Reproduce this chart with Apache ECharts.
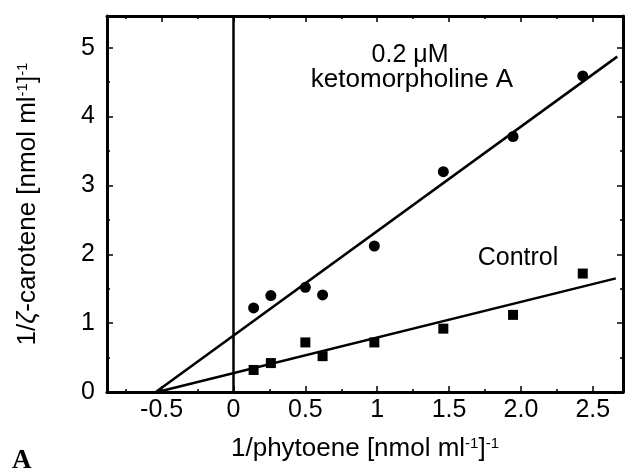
<!DOCTYPE html>
<html>
<head>
<meta charset="utf-8">
<script src="https://cdn.jsdelivr.net/npm/echarts@6/dist/echarts.min.js"></script>
<style>
  html, body { margin: 0; padding: 0; background: #fff; }
  #chart { width: 625px; height: 471px; }
</style>
</head>
<body>
<div id="chart"></div>
<script>
// 1/phytoene (x) 与 1/ζ-carotene (y) 数据
const phytoeneInv = [0.14, 0.26, 0.50, 0.62, 0.98, 1.46, 1.945, 2.43];
const ketoValues = [1.22, 1.40, 1.52, 1.41, 2.12, 3.20, 3.71, 4.59];
const controlValues = [0.32, 0.42, 0.72, 0.52, 0.72, 0.92, 1.12, 1.72];

// 回归直线的两个端点
const ketoFitX = [-0.54, 2.67];
const ketoFitY = [0, 4.87];
const controlFitX = [-0.53, 2.66];
const controlFitY = [0, 1.65];

// 刻度
const xTickValues = [-0.5, 0, 0.5, 1, 1.5, 2, 2.5];
const xTickLabels = ['-0.5', '0', '0.5', '1', '1.5', '2.0', '2.5'];
const xMinorTicks = [-0.75, -0.25, 0.25, 0.75, 1.25, 1.75, 2.25];
const yTickValues = [0, 1, 2, 3, 4, 5];
const yTickLabels = ['0', '1', '2', '3', '4', '5'];
const yMinorTicks = [0.5, 1.5, 2.5, 3.5, 4.5];

const font = '"Liberation Sans", Arial, sans-serif';
const black = '#000';

const pairs = (xs, ys) => xs.map((x, i) => [x, ys[i]]);

// 坐标轴（主刻度 + 次刻度 分开画）
const xRange = { min: -0.88, max: 2.71 };
const yRange = { min: 0, max: 5.46 };

const makeAxis = (pos, range, ticks, tickLen, showLine, labels) => ({
    type: 'value',
    position: pos,
    min: range.min,
    max: range.max,
    axisLine: { show: showLine, onZero: false, lineStyle: { color: black, width: 3 } },
    axisTick: { show: true, inside: true, length: tickLen, customValues: ticks, lineStyle: { color: black, width: 1.5 } },
    axisLabel: labels ? labels : { show: false },
    splitLine: { show: false }
});

const nameStyle = {
    color: black, fontSize: 26, fontFamily: font,
    rich: {
        sup: { fontSize: 15, fontFamily: font, color: black, verticalAlign: 'top' },
        it: { fontSize: 26, fontFamily: font, color: black, fontStyle: 'italic' }
    }
};

const xAxes = [
    Object.assign(makeAxis('bottom', xRange, xTickValues, 6, true, {
        customValues: xTickValues,
        formatter: (v) => {
            const i = xTickValues.indexOf(v);
            return i >= 0 ? xTickLabels[i] : String(v);
        },
        color: black, fontSize: 25, fontFamily: font, margin: 6
    }), {
        name: '1/phytoene [nmol ml{sup|-1}]{sup|-1}',
        nameLocation: 'middle',
        nameGap: 44,
        nameTextStyle: nameStyle
    }),
    makeAxis('bottom', xRange, xMinorTicks, 3, false),
    makeAxis('top', xRange, xTickValues, 6, true),
    makeAxis('top', xRange, xMinorTicks, 3, false)
];

const yAxes = [
    Object.assign(makeAxis('left', yRange, yTickValues, 6, true, {
        customValues: yTickValues,
        formatter: (v) => {
            const i = yTickValues.indexOf(v);
            return i >= 0 ? yTickLabels[i] : String(v);
        },
        color: black, fontSize: 25, fontFamily: font, margin: 12
    }), {
        name: '1/{it|ζ}-carotene [nmol ml{sup|-1}]{sup|-1}',
        nameLocation: 'middle',
        nameGap: 66,
        nameTextStyle: nameStyle
    }),
    makeAxis('left', yRange, yMinorTicks, 3, false),
    makeAxis('right', yRange, yTickValues, 6, true),
    makeAxis('right', yRange, yMinorTicks, 3, false)
];

const option = {
    animation: false,
    backgroundColor: '#fff',
    grid: { left: 107, top: 16, right: 2, bottom: 79, containLabel: false },
    xAxis: xAxes,
    yAxis: yAxes,
    graphic: [
        { type: 'text', x: 410, y: 55, style: { text: '0.2 μM', fill: black, fontSize: 25, fontFamily: font, align: 'center', verticalAlign: 'middle' } },
        { type: 'text', x: 412, y: 80, style: { text: 'ketomorpholine A', fill: black, fontSize: 26, fontFamily: font, align: 'center', verticalAlign: 'middle' } },
        { type: 'text', x: 518, y: 258, style: { text: 'Control', fill: black, fontSize: 25, fontFamily: font, align: 'center', verticalAlign: 'middle' } },
        { type: 'text', x: 12, y: 461, style: { text: 'A', fill: black, fontSize: 27, fontWeight: 'bold', fontFamily: '"Liberation Serif", "Times New Roman", serif', align: 'left', verticalAlign: 'middle' } }
    ],
    series: [
        // 0 处的竖线
        {
            type: 'line',
            data: [],
            markLine: {
                silent: true,
                symbol: ['none', 'none'],
                label: { show: false },
                lineStyle: { color: black, width: 2.5, type: 'solid' },
                data: [{ xAxis: 0 }]
            }
        },
        {
            name: 'ketomorpholine fit',
            type: 'line',
            showSymbol: false,
            lineStyle: { color: black, width: 2.5 },
            data: pairs(ketoFitX, ketoFitY)
        },
        {
            name: 'control fit',
            type: 'line',
            showSymbol: false,
            lineStyle: { color: black, width: 2.5 },
            data: pairs(controlFitX, controlFitY)
        },
        {
            name: '0.2 μM ketomorpholine A',
            type: 'scatter',
            symbol: 'circle',
            symbolSize: 11,
            itemStyle: { color: black, opacity: 1 },
            data: pairs(phytoeneInv, ketoValues)
        },
        {
            name: 'Control',
            type: 'scatter',
            symbol: 'rect',
            symbolSize: 10,
            itemStyle: { color: black, opacity: 1 },
            data: pairs(phytoeneInv, controlValues)
        }
    ]
};

const myChart = echarts.init(document.getElementById('chart'));
myChart.setOption(option);
</script>
</body>
</html>
